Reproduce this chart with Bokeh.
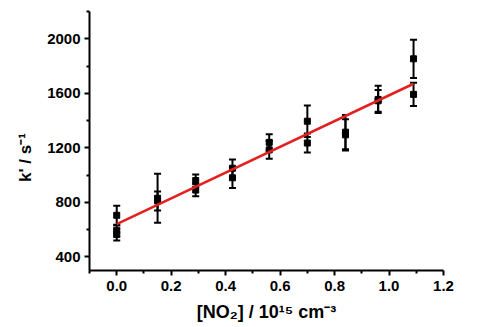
from bokeh.plotting import figure
from bokeh.models import (ColumnDataSource, Whisker, TeeHead, FixedTicker,
                          Range1d, PrintfTickFormatter)
from bokeh.embed import file_html
from bokeh.resources import INLINE

# NO2 concentration (10^15 cm^-3) and pseudo-first-order rate constants k' (s^-1)
no2_conc = [0.0, 0.0, 0.0, 0.15, 0.15, 0.29, 0.29, 0.425, 0.425,
            0.56, 0.56, 0.70, 0.70, 0.84, 0.84, 0.96, 0.96, 1.09, 1.09]
k_prime = [705, 590, 565, 830, 810, 960, 890, 1050, 980,
           1240, 1185, 1395, 1235, 1315, 1295, 1555, 1545, 1853, 1592]
k_err = [70, 40, 45, 180, 70, 45, 45, 65, 75,
         60, 65, 115, 70, 125, 115, 100, 80, 140, 85]

# linear fit end points
fit_x = [0.0, 1.09]
fit_k = [640, 1670]

x_ticks = [0.0, 0.2, 0.4, 0.6, 0.8, 1.0, 1.2]
x_minor = [-0.1, 0.1, 0.3, 0.5, 0.7, 0.9, 1.1]
y_ticks = [400, 800, 1200, 1600, 2000]
y_minor = [600, 1000, 1400, 1800, 2200]

x_title = "[NO\u2082] / 10\u00b9\u2075 cm\u207b\u00b3"
y_title = "k' / s\u207b\u00b9" + "\u00a0" * 7

FONT = "Liberation Sans"

src = ColumnDataSource(dict(
    x=no2_conc, k=k_prime,
    lower=[k - e for k, e in zip(k_prime, k_err)],
    upper=[k + e for k, e in zip(k_prime, k_err)],
))

p = figure(width=494, height=327, output_backend="svg", toolbar_location=None,
           x_range=Range1d(-0.1, 1.2), y_range=Range1d(300, 2200),
           min_border_left=89, min_border_right=51,
           min_border_top=11, min_border_bottom=57)
p.background_fill_color = "white"
p.border_fill_color = "white"
p.outline_line_color = None
p.grid.visible = False

for ax in (p.xaxis[0], p.yaxis[0]):
    ax.axis_line_width = 2
    ax.axis_line_color = "black"
    ax.major_tick_line_width = 2
    ax.minor_tick_line_width = 2
    ax.major_tick_out = 5
    ax.major_tick_in = 0
    ax.minor_tick_out = 3
    ax.minor_tick_in = 0
    ax.major_label_text_font = FONT
    ax.major_label_text_font_style = "bold"
    ax.major_label_text_font_size = "15px"
    ax.major_label_text_color = "black"
    ax.axis_label_text_font = FONT
    ax.axis_label_text_font_style = "bold"
    ax.axis_label_text_color = "black"

p.xaxis.ticker = FixedTicker(ticks=x_ticks, minor_ticks=x_minor)
p.yaxis.ticker = FixedTicker(ticks=y_ticks, minor_ticks=y_minor)
p.xaxis.formatter = PrintfTickFormatter(format="%.1f")
p.xaxis.major_label_standoff = 5
p.yaxis.major_label_standoff = 4

p.xaxis.axis_label = x_title
p.xaxis.axis_label_text_font_size = "18px"
p.xaxis.axis_label_standoff = 8
p.yaxis.axis_label = y_title
p.yaxis.axis_label_text_font_size = "17px"
p.yaxis.axis_label_standoff = 9

# error bars
p.add_layout(Whisker(source=src, base="x", lower="lower", upper="upper",
                     line_width=2, line_color="black",
                     lower_head=TeeHead(size=7, line_width=2, line_color="black"),
                     upper_head=TeeHead(size=7, line_width=2, line_color="black")))

# data points
p.scatter("x", "k", source=src, marker="square", size=6,
          fill_color="black", line_color="black")

# fitted line
p.line(fit_x, fit_k, line_color="#e3201f", line_width=2.5)

open("out.html", "w").write(file_html(p, INLINE))
